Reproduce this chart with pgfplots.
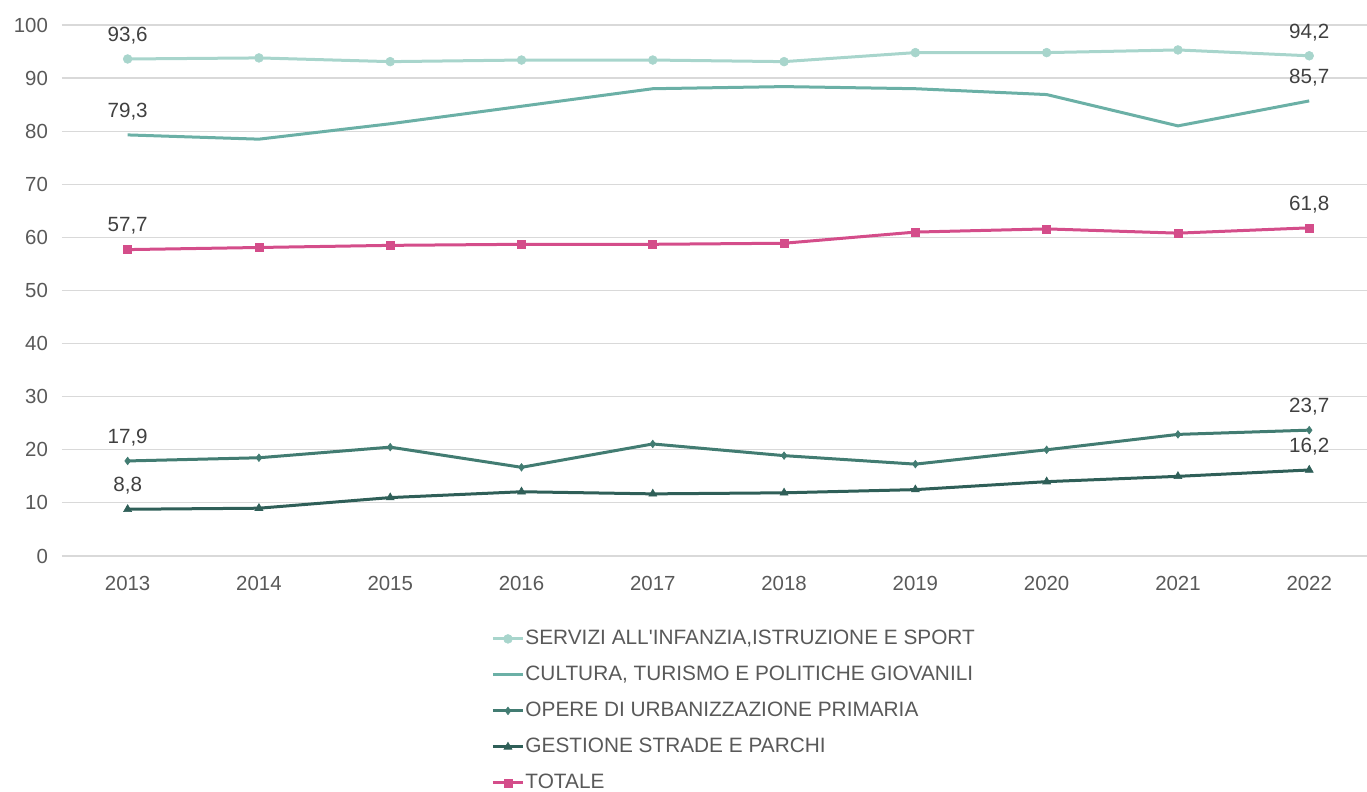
\documentclass[border=0pt]{standalone}
\usepackage{fontspec}
\setmainfont{Liberation Sans}
\usepackage{pgfplots}
\pgfplotsset{compat=1.18}
\definecolor{cServ}{HTML}{A8D5CC}
\definecolor{cCult}{HTML}{6BB0A6}
\definecolor{cOpere}{HTML}{427C72}
\definecolor{cGest}{HTML}{2F5F58}
\definecolor{cTot}{HTML}{D44D8A}
\definecolor{cTxt}{HTML}{595959}
\definecolor{cGrid}{HTML}{D9D9D9}
\begin{document}
\begin{tikzpicture}
\useasboundingbox (-31pt,-118pt) rectangle (652.5pt,278pt);
\begin{axis}[
  at={(0pt,0pt)}, anchor=south west,
  scale only axis, width=652.5pt, height=265.5pt,
  xmin=-0.5, xmax=9.44, ymin=0, ymax=100,
  xtick={0,...,9},
  xticklabels={2013,2014,2015,2016,2017,2018,2019,2020,2021,2022},
  ytick={0,10,...,100},
  axis line style={draw=none},
  major tick length=0pt,
  ymajorgrids, grid style={cGrid, line width=0.6pt},
  tick label style={font=\fontsize{10.2}{11}\selectfont, text=cTxt},
  /pgf/number format/assume math mode=true,
  xticklabel style={yshift=-6.5pt},
  yticklabel style={xshift=-3.5pt},
  legend style={at={(axis description cs:0.3288,-0.1375)}, anchor=north west,
    draw=none, fill=none, inner sep=0pt, row sep=8.5pt,
    font=\fontsize{10.4}{11}\selectfont, text=cTxt,
    nodes={inner xsep=0.5pt, inner ysep=0pt, text height=7.5pt, text depth=2pt}},
  legend cell align=left,
  legend image code/.code={\draw[mark repeat=2,mark phase=2,#1] plot coordinates {(0pt,0pt) (7.5pt,0pt) (15pt,0pt)};},
  every node near coord/.append style={font=\fontsize{10.3}{11}\selectfont, text=black!75, anchor=south, yshift=4pt},
]
\addplot[cServ, line width=1.5pt, mark=*, mark size=2.2pt, mark options={line width=0.3pt}] coordinates {
(0,93.6) (1,93.8) (2,93.1) (3,93.4) (4,93.4) (5,93.1) (6,94.8) (7,94.8) (8,95.3) (9,94.2)};
\addlegendentry{SERVIZI ALL\textquotesingle INFANZIA,ISTRUZIONE E SPORT}
\addplot[cCult, line width=1.5pt, no marks] coordinates {
(0,79.3) (1,78.5) (2,81.4) (3,84.7) (4,88.0) (5,88.4) (6,88.0) (7,86.9) (8,81.0) (9,85.7)};
\addlegendentry{CULTURA, TURISMO E POLITICHE GIOVANILI}
\addplot[cOpere, line width=1.5pt, mark=diamond*, mark size=1.9pt, mark options={line width=0.3pt}] coordinates {
(0,17.9) (1,18.5) (2,20.5) (3,16.7) (4,21.1) (5,18.9) (6,17.3) (7,20.0) (8,22.9) (9,23.7)};
\addlegendentry{OPERE DI URBANIZZAZIONE PRIMARIA}
\addplot[cGest, line width=1.5pt, mark=triangle*, mark size=2.3pt, mark options={line width=0.3pt}] coordinates {
(0,8.8) (1,9.0) (2,11.0) (3,12.1) (4,11.7) (5,11.9) (6,12.5) (7,14.0) (8,15.0) (9,16.2)};
\addlegendentry{GESTIONE STRADE E PARCHI}
\addplot[cTot, line width=1.5pt, mark=square*, mark size=2pt, mark options={line width=0.3pt}] coordinates {
(0,57.7) (1,58.1) (2,58.5) (3,58.7) (4,58.7) (5,58.9) (6,61.0) (7,61.6) (8,60.8) (9,61.8)};
\addlegendentry{TOTALE}
% data labels
\addplot[forget plot, draw=none, no marks, nodes near coords, point meta=explicit symbolic] coordinates {
(0,93.6) [93,6] (9,94.2) [94,2]
(0,79.3) [79,3] (9,85.7) [85,7]
(0,57.7) [57,7] (9,61.8) [61,8]
(0,17.9) [17,9] (9,23.7) [23,7]
(0,8.8) [8,8] (9,16.2) [16,2]};
\end{axis}
\end{tikzpicture}
\end{document}
